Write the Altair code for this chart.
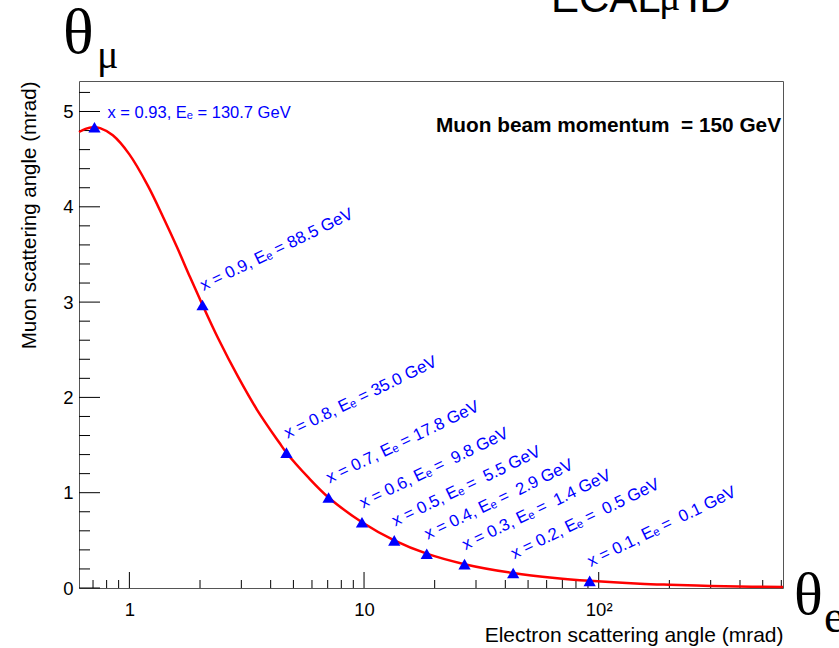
import altair as alt
import pandas as pd

# ---------------- data ----------------
curve_te = [0.61, 0.65, 0.70, 0.75, 0.85, 1.0, 1.2, 1.4, 1.6, 1.8, 2.05, 2.4,
            2.9, 3.5, 4.35, 4.67, 5.8, 7.06, 9.8, 13.45, 18.5, 26.8, 43.2, 65, 91.5,
            150, 200, 300, 450, 610]
curve_tm = [4.785, 4.818, 4.835, 4.825, 4.75, 4.55, 4.22, 3.88, 3.57, 3.28, 2.97, 2.61,
            2.22, 1.87, 1.526, 1.42, 1.158, 0.95, 0.69, 0.50, 0.36, 0.25, 0.157, 0.105, 0.075,
            0.045, 0.034, 0.022, 0.014, 0.0098]

x_frac = [0.93, 0.9, 0.8, 0.7, 0.6, 0.5, 0.4, 0.3, 0.2, 0.1]
e_energy = [130.7, 88.5, 35.0, 17.8, 9.8, 5.5, 2.9, 1.4, 0.5, 0.1]
pt_te = [0.71, 2.05, 4.67, 7.06, 9.8, 13.45, 18.5, 26.8, 43.2, 91.5]
pt_tm = [4.835, 2.97, 1.42, 0.95, 0.69, 0.50, 0.36, 0.25, 0.157, 0.075]

x_major = [1, 10, 100]
x_major_labels = ["1", "10", "10\u00b2"]
x_minor = [0.7, 0.8, 0.9, 2, 3, 4, 5, 6, 7, 8, 9, 20, 30, 40, 50, 60, 70, 80, 90,
           200, 300, 400, 500, 600]
y_major = [0, 1, 2, 3, 4, 5]
y_minor = [0.2, 0.4, 0.6, 0.8, 1.2, 1.4, 1.6, 1.8, 2.2, 2.4, 2.6, 2.8, 3.2, 3.4, 3.6, 3.8,
           4.2, 4.4, 4.6, 4.8, 5.2]

x_domain = [0.61, 610]
y_domain = [0, 5.32]

# ---------------- tables ----------------
def make_label(x, e):
    s = f"x = {x:g}, E\u2091 = "
    if e < 10:
        s += "\u00a0"
    return s + f"{e:.1f} GeV"

curve_df = pd.DataFrame({"te": curve_te, "tm": curve_tm})
pts_df = pd.DataFrame({"te": pt_te, "tm": pt_tm,
                       "label": [make_label(x, e) for x, e in zip(x_frac, e_energy)]})
first_df = pts_df.iloc[:1]
rest_df = pts_df.iloc[1:]

W, H = 704, 507
FONT = "Liberation Sans"
SERIF = "Liberation Serif"

xs = alt.Scale(type="log", domain=x_domain, nice=False)
ys = alt.Scale(domain=y_domain, nice=False, zero=False)

label_expr = " : ".join(
    f"datum.value == {v} ? '{l}'" for v, l in zip(x_major[:-1], x_major_labels[:-1])
) + f" : '{x_major_labels[-1]}'"

x_axis = alt.Axis(values=x_major, labelExpr=label_expr, ticks=False, domain=False, grid=False,
                  labelFont=FONT, labelFontSize=18.5, labelColor="black", labelPadding=12,
                  labelFlush=False, labelOverlap=False,
                  title="Electron scattering angle (mrad)", titleFont=FONT, titleFontSize=21,
                  titleFontWeight="normal", titleColor="black", titleX=W, titleY=47,
                  titleAlign="right", titleBaseline="middle")
y_axis = alt.Axis(values=y_major, format="d", ticks=False, domain=False, grid=False,
                  labelFont=FONT, labelFontSize=18.5, labelColor="black", labelPadding=6,
                  labelFlush=False, labelOverlap=False,
                  title="Muon scattering angle (mrad)", titleFont=FONT, titleFontSize=20.5,
                  titleFontWeight="normal", titleColor="black", titleAngle=270,
                  titleX=-50, titleY=0, titleAlign="right", titleBaseline="middle")

X = alt.X("te:Q", scale=xs, axis=x_axis)
Y = alt.Y("tm:Q", scale=ys, axis=y_axis)

curve = alt.Chart(curve_df).mark_line(color="#ff0000", strokeWidth=2.5,
                                       interpolate="catmull-rom").encode(x=X, y=Y)
markers = alt.Chart(pts_df).mark_point(shape="triangle-up", filled=True, color="#0000ff",
                                       size=150, opacity=1).encode(x=X, y=Y)
lab_first = alt.Chart(first_df).mark_text(align="left", baseline="alphabetic", dx=13, dy=-9.5,
                                          font=FONT, fontSize=16.5, color="#0000ff").encode(
    x=X, y=Y, text="label:N")
lab_rest = alt.Chart(rest_df).mark_text(align="left", baseline="alphabetic", angle=334,
                                        dx=7, dy=-12, font=FONT, fontSize=16.8,
                                        color="#0000ff").encode(x=X, y=Y, text="label:N")

# inward ticks
ymaj = alt.Chart(pd.DataFrame({"tm": y_major})).mark_rule(color="black").encode(
    y=Y, x=alt.value(0), x2=alt.value(21))
ymin = alt.Chart(pd.DataFrame({"tm": y_minor})).mark_rule(color="black").encode(
    y=Y, x=alt.value(0), x2=alt.value(11))
xmaj = alt.Chart(pd.DataFrame({"te": x_major})).mark_rule(color="black").encode(
    x=X, y=alt.value(H), y2=alt.value(H - 16))
xmin = alt.Chart(pd.DataFrame({"te": x_minor})).mark_rule(color="black").encode(
    x=X, y=alt.value(H), y2=alt.value(H - 8))

def note(text, x, y, size, font=FONT, weight="normal", align="left", color="black"):
    return alt.Chart(pd.DataFrame({"t": [text]})).mark_text(
        align=align, baseline="alphabetic", font=font, fontSize=size, fontWeight=weight,
        color=color).encode(x=alt.value(x), y=alt.value(y), text="t:N")

beam = note("Muon beam momentum \u00a0= 150 GeV", 702, 50.5, 20.8, weight="bold", align="right")
theta_mu_a = note("\u03b8", -16, -28, 64, font=SERIF)
theta_mu_b = note("\u03bc", 18, -13, 40, font=SERIF)
theta_e_a = note("\u03b8", 715, 533, 60, font=SERIF)
theta_e_b = note("e", 745, 551, 46, font=SERIF)
top_a = note("ECAL", 472, -69, 42)
top_b = note("\u03bc", 580, -71, 40, font=SERIF)
top_c = note("ID", 608, -69, 44)

chart = alt.layer(
    ymin, ymaj, xmin, xmaj, curve, markers, lab_first, lab_rest,
    beam, theta_mu_a, theta_mu_b, theta_e_a, theta_e_b, top_a, top_b, top_c
).properties(
    width=W, height=H,
    autosize=alt.AutoSizeParams(type="none"),
    padding={"left": 79, "top": 81, "right": 56, "bottom": 60},
    background="white",
).configure_view(stroke="#555555", strokeWidth=1)

chart.save("out.html", embed_options={"renderer": "svg", "actions": False})
